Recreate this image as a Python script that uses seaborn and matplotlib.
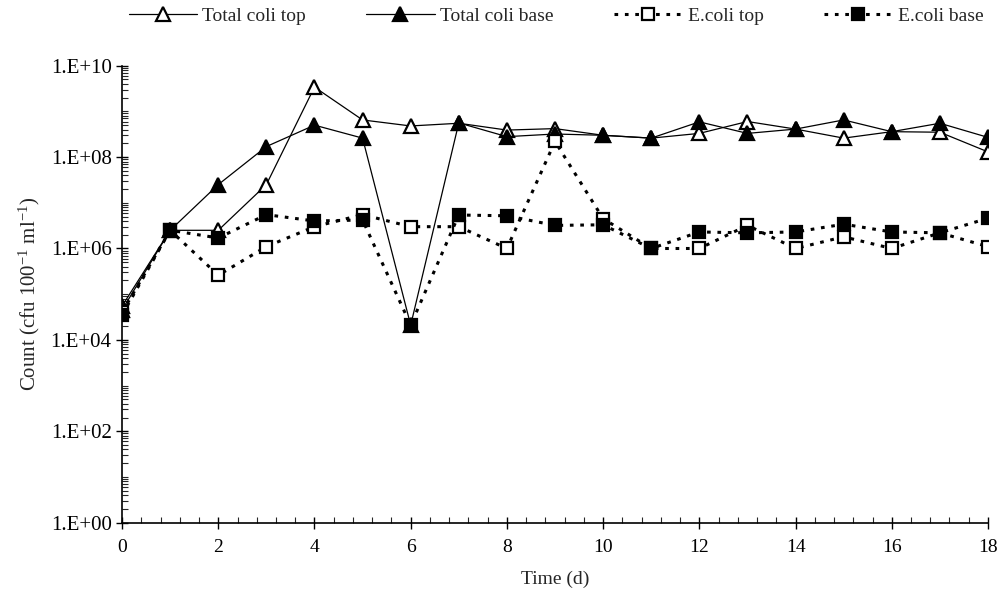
import numpy as np
import pandas as pd
import matplotlib
matplotlib.use('Agg')
import matplotlib.pyplot as plt
import matplotlib.ticker as mticker
import seaborn as sns

sns.set_style('ticks')
plt.rcParams['font.family'] = ['Liberation Serif', 'DejaVu Serif']
plt.rcParams['mathtext.default'] = 'regular'

# 数据
days = list(range(19))
tc_top = [5.5e4, 2.5e6, 2.5e6, 2.5e7, 3.4e9, 6.5e8, 4.8e8, 5.5e8, 3.9e8, 4.2e8,
          3.0e8, 2.6e8, 3.3e8, 6.0e8, 4.1e8, 2.6e8, 3.6e8, 3.5e8, 1.3e8]
tc_base = [4.5e4, 2.5e6, 2.5e7, 1.7e8, 5.0e8, 2.6e8, 2.1e4, 5.6e8, 2.8e8, 3.2e8,
           3.0e8, 2.6e8, 5.9e8, 3.3e8, 4.1e8, 6.5e8, 3.6e8, 5.5e8, 2.7e8]
ec_top = [4.0e4, 2.5e6, 2.6e5, 1.1e6, 3.0e6, 5.5e6, 3.0e6, 3.0e6, 1.0e6, 2.2e8,
          4.5e6, 1.0e6, 1.0e6, 3.2e6, 1.0e6, 1.8e6, 1.0e6, 2.2e6, 1.1e6]
ec_base = [3.5e4, 2.5e6, 1.7e6, 5.5e6, 4.0e6, 4.2e6, 2.1e4, 5.4e6, 5.2e6, 3.2e6,
           3.3e6, 1.0e6, 2.3e6, 2.2e6, 2.3e6, 3.4e6, 2.3e6, 2.2e6, 4.6e6]
names = ['Total coli top', 'Total coli base', 'E.coli top', 'E.coli base']

fig, ax = plt.subplots(figsize=(10.02, 6.01), dpi=100)
fig.subplots_adjust(left=0.1218, right=0.986, bottom=0.1303, top=0.8907)

dash = (0, (1.2, 2.2))
styles = [
    dict(marker='^', mfc='white', ls='-', lw=0.9, ms=10),
    dict(marker='^', mfc='black', ls='-', lw=0.9, ms=10),
    dict(marker='s', mfc='white', ls=dash, lw=2.2, ms=9),
    dict(marker='s', mfc='black', ls=dash, lw=2.2, ms=9),
]
for vals, name, st in zip([tc_top, tc_base, ec_top, ec_base], names, styles):
    sns.lineplot(x=days, y=vals, ax=ax, color='black', legend=False,
                 marker=st['marker'], markerfacecolor=st['mfc'],
                 markeredgecolor='black', markeredgewidth=1.6,
                 markersize=st['ms'], linestyle=st['ls'], linewidth=st['lw'])

ax.set_yscale('log')
ax.set_ylim(1, 1e10)
ax.set_xlim(0, 18)
ax.set_xticks(range(0, 19, 2))
ax.xaxis.set_minor_locator(mticker.MultipleLocator(0.4))
ax.yaxis.set_major_locator(mticker.FixedLocator([10.0 ** k for k in range(0, 11, 2)]))
ax.yaxis.set_major_formatter(mticker.FuncFormatter(lambda v, p: '1.E+%02d' % round(np.log10(v))))
ax.yaxis.set_minor_locator(mticker.LogLocator(base=10, subs=np.arange(1, 10), numticks=100))
ax.yaxis.set_minor_formatter(mticker.NullFormatter())
ax.tick_params(which='major', direction='inout', length=8, width=1, colors='black')
ax.tick_params(axis='y', which='major', labelsize=15)
ax.tick_params(axis='x', which='major', labelsize=14, pad=8)
ax.tick_params(which='minor', direction='in', length=4, width=0.8)
for s in ['top', 'right']:
    ax.spines[s].set_visible(False)
for s in ['left', 'bottom']:
    ax.spines[s].set_color('black')
    ax.spines[s].set_linewidth(1.2)

ax.set_xlabel('Time (d)', fontsize=14, labelpad=10)
ax.set_ylabel(r'Count (cfu 100$^{-1}$ ml$^{-1}$)', fontsize=15, labelpad=6)

fig.legend(handles=ax.get_lines()[:4], labels=names, loc='center',
           bbox_to_anchor=(0.555, 0.973), ncol=4, frameon=False,
           fontsize=14, handlelength=3.5, columnspacing=3.1, handletextpad=0.3)

plt.savefig('out.png', dpi=100)
